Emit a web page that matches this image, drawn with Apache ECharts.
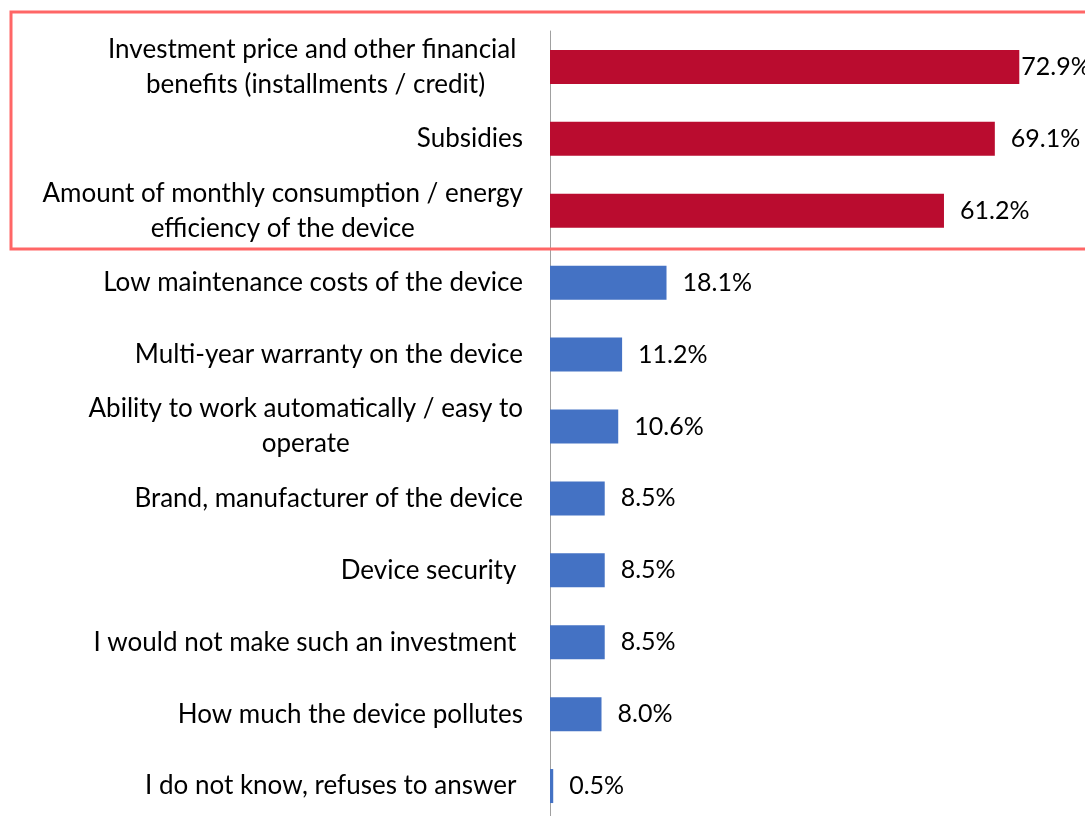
<!DOCTYPE html>
<html>
<head>
<meta charset="utf-8">
<script src="https://cdn.jsdelivr.net/npm/echarts@6/dist/echarts.min.js"></script>
<style>
  html, body { margin: 0; padding: 0; background: #ffffff; }
  #chart { width: 1085px; height: 816px; }
</style>
</head>
<body>
<div id="chart"></div>
<script>
// Survey answers, top to bottom
const categories = [
  'Investment price and other financial \nbenefits (installments / credit)',
  'Subsidies',
  'Amount of monthly consumption / energy\nefficiency of the device',
  'Low maintenance costs of the device',
  'Multi-year warranty on the device',
  'Ability to work automatically / easy to\noperate',
  'Brand, manufacturer of the device',
  'Device security ',
  'I would not make such an investment ',
  'How much the device pollutes',
  'I do not know, refuses to answer '
];

// Share of respondents (%)
const values = [72.9, 69.1, 61.2, 18.1, 11.2, 10.6, 8.5, 8.5, 8.5, 8.0, 0.5];

// The leading answers are highlighted in red
const highlighted = [true, true, true, false, false, false, false, false, false, false, false];

const RED = '#BA0C2F';
const BLUE = '#4472C4';
const FONT = 'Lato';

const chart = echarts.init(document.getElementById('chart'), null, { renderer: 'canvas' });

const seriesData = values.map((v, i) => {
  const item = {
    value: v,
    itemStyle: { color: highlighted[i] ? RED : BLUE }
  };
  // the longest bar keeps its label tight against the end
  if (i === 0) item.label = { distance: 2 };
  return item;
});

chart.setOption({
  animation: false,
  backgroundColor: '#ffffff',
  // the plot runs slightly past the bottom edge of the page
  grid: { left: 550, right: 20, top: 31, height: 791, containLabel: false, outerBoundsMode: 'none' },
  xAxis: {
    type: 'value',
    min: 0,
    max: 80,
    show: false,
    splitLine: { show: false }
  },
  yAxis: {
    type: 'category',
    inverse: true,
    data: categories,
    axisTick: { show: false },
    axisLine: { show: true, lineStyle: { color: '#a0a0a0', width: 1 } },
    axisLabel: {
      margin: 27,
      formatter: (val) => val.split('\n').map(line => '{c|' + line + '}').join('\n'),
      rich: {
        c: {
          fontFamily: FONT,
          fontSize: 26,
          lineHeight: 35,
          color: '#000000',
          align: 'center'
        }
      }
    }
  },
  series: [{
    type: 'bar',
    data: seriesData,
    barWidth: 34,
    label: {
      show: true,
      position: 'right',
      distance: 16,
      fontFamily: FONT,
      fontSize: 25,
      color: '#000000',
      formatter: (p) => p.value.toFixed(1) + '%'
    }
  }],
  graphic: [{
    type: 'rect',
    z: 100,
    silent: true,
    shape: { x: 11, y: 12, width: 1100, height: 237 },
    style: { fill: 'none', stroke: '#FF6666', lineWidth: 3 }
  }]
});
</script>
</body>
</html>
